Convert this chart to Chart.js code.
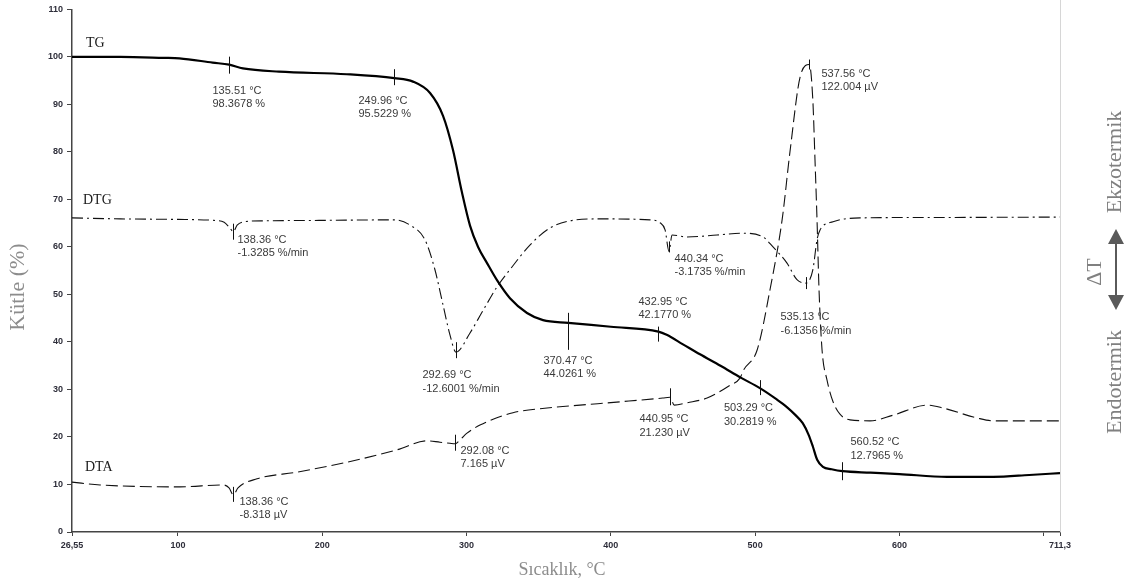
<!DOCTYPE html>
<html>
<head>
<meta charset="utf-8">
<script src="https://cdn.jsdelivr.net/npm/chart.js@4/dist/chart.umd.min.js"></script>
<style>
  html, body { margin: 0; padding: 0; background: #fff; }
  #wrap { width: 1134px; height: 587px; }
</style>
</head>
<body>
<div id="wrap"><canvas id="c" width="1134" height="587"></canvas></div>
<script>
// ---- Thermal analysis data (temperature in °C) ----
// TG: mass (%)
const tgTemps  = [26.55, 60, 90, 101, 124, 135.51, 145, 170, 217, 249.96, 262.9, 274.7, 283.7, 290.6, 296.8, 302.4, 308, 314.2, 321.1, 330.1, 341.9, 353, 370.47, 400, 432.95, 438.7, 450, 461.8, 476, 490, 503.29, 515, 522, 528, 533, 537, 540, 543, 547, 553, 560.52, 580, 600, 633, 665, 690, 711.3];
const tgValues = [100, 100, 99.8, 99.7, 98.8, 98.3678, 97.6, 96.9, 96.35, 95.5229, 94.8, 92.4, 87.6, 80.4, 71.5, 64.5, 60.0, 56.6, 53.0, 49.2, 46.1, 44.6, 44.0261, 43.2, 42.177, 41.5, 39.5, 37.4, 35.0, 32.5, 30.2819, 27.9, 26.3, 24.6, 22.9, 20.5, 18.0, 15.2, 13.7, 13.2, 12.7965, 12.5, 12.2, 11.6, 11.6, 12.0, 12.4];

// DTG: mass loss rate (%/min)
const dtgTemps  = [26.55, 60, 100, 125, 132, 136, 138.36, 141, 146, 160, 200, 250, 260.8, 271.2, 278.1, 283.7, 288.5, 292.69, 302.4, 311, 321.1, 330, 343.9, 357.8, 371.7, 392.5, 427.2, 434.1, 437.6, 440.34, 442.4, 452.8, 473.6, 491.6, 505.5, 512.4, 522.1, 529, 535.13, 540, 542.9, 545, 554, 572.7, 620, 711.3];
const dtgValues = [-0.04, -0.13, -0.18, -0.27, -0.44, -0.98, -1.3285, -0.71, -0.40, -0.31, -0.27, -0.22, -0.71, -2.09, -4.89, -8.18, -10.98, -12.6001, -10.8, -8.8, -6.49, -4.89, -2.58, -0.98, -0.31, -0.13, -0.22, -0.49, -1.16, -3.1735, -1.64, -1.82, -1.64, -1.47, -1.82, -2.76, -4.27, -5.82, -6.1356, -4.89, -2.09, -1.16, -0.40, -0.04, 0.00, 0.04];

// DTA: temperature difference signal (µV)
const dtaTemps  = [26.55, 46, 101.4, 131.2, 135.4, 138.36, 141.6, 154.8, 182.5, 217.2, 251.8, 272.6, 281.6, 288.5, 292.08, 296, 300.3, 309.3, 332.2, 355.8, 378.6, 406.4, 436, 440.95, 444, 452.8, 466.7, 482.7, 489.5, 492, 501.4, 510.3, 518.7, 524.3, 531.2, 537.56, 540, 541.5, 542.9, 544.3, 546.4, 549.8, 554, 558.8, 565.8, 579.6, 595.6, 619.2, 630.2, 653.8, 664.9, 711.3];
const dtaValues = [-4.46, -5.32, -5.90, -5.32, -6.19, -8.318, -6.19, -3.45, -1.44, 1.58, 5.32, 8.06, 7.63, 7.3, 7.165, 8.6, 10.36, 12.81, 16.55, 17.99, 18.85, 19.86, 21.0, 21.23, 18.85, 19.57, 21.0, 24.89, 27.05, 29.5, 35.54, 53.8, 74.96, 96.12, 118.27, 122.004, 111.2, 93.1, 75.0, 53.7, 35.5, 26.5, 19.86, 16.1, 14.4, 14.1, 15.8, 18.85, 17.99, 14.96, 14.1, 14.1];

// Axis ticks
const xTickValues = [26.55, 100, 200, 300, 400, 500, 600, 700, 711.3];
const xTickLabels = ['26,55', '100', '200', '300', '400', '500', '600', '', '711,3'];
const yTickValues = [0, 10, 20, 30, 40, 50, 60, 70, 80, 90, 100, 110];

// Evaluated points on the curves
const peakSeries = ['tg', 'tg', 'tg', 'tg', 'tg', 'tg', 'dtg', 'dtg', 'dtg', 'dtg', 'dta', 'dta', 'dta', 'dta'];
const peakTemps  = [135.51, 249.96, 370.47, 432.95, 503.29, 560.52, 138.36, 292.69, 440.34, 535.13, 138.36, 292.08, 440.95, 537.56];
const peakValues = [98.3678, 95.5229, 44.0261, 42.1770, 30.2819, 12.7965, -1.3285, -12.6001, -3.1735, -6.1356, -8.318, 7.165, 21.230, 122.004];

// Placement of the point labels (px offset of first text line from the point) and marker extent (px up, px down)
const peakLabelOffset = [[-17, 26], [-36, 22.5], [-25, 38], [-20, -30], [-36.5, 20], [8, -29], [4, 8], [-34, 23], [5, 7.5], [-26, 34], [6, 7], [5, 7], [-31, 22], [12, 9]];
const peakMarkerSpan  = [[8, 9], [9, 7], [10, 27], [5, 10], [8, 7], [9, 9], [8, 8], [10, 6], [10, 1], [6, 6], [8, 7], [9, 7], [9, 8], [5, 5]];

const seriesAxis = { tg: 'y', dtg: 'yDtg', dta: 'yDta' };
const seriesUnit = { tg: '%', dtg: '%/min', dta: 'µV' };
const seriesDecimals = { tg: 4, dtg: 4, dta: 3 };

function pts(xs, ys) { return xs.map((t, i) => ({ x: t, y: ys[i] })); }

const decor = {
  id: 'decor',
  beforeDraw(chart) {
    const ctx = chart.ctx;
    ctx.save();
    ctx.fillStyle = '#fff';
    ctx.fillRect(0, 0, chart.width, chart.height);
    ctx.restore();
  },
  afterDatasetsDraw(chart) {
    const { ctx, scales } = chart;
    const x = scales.x;
    ctx.save();
    ctx.lineWidth = 1;
    ctx.strokeStyle = '#111';
    ctx.fillStyle = '#3a3a3a';
    ctx.font = '11px "Liberation Sans", Arial, sans-serif';
    ctx.textBaseline = 'middle';
    ctx.textAlign = 'left';
    peakTemps.forEach((t, i) => {
      const s = peakSeries[i];
      const ys = scales[seriesAxis[s]];
      const px = Math.round(x.getPixelForValue(t)) + 0.5;
      const py = ys.getPixelForValue(peakValues[i]);
      const [up, down] = peakMarkerSpan[i];
      ctx.beginPath();
      ctx.moveTo(px, py - up);
      ctx.lineTo(px, py + down);
      ctx.stroke();
      const [dx, dy] = peakLabelOffset[i];
      ctx.fillText(t.toFixed(2) + ' °C', px + dx, py + dy);
      ctx.fillText(peakValues[i].toFixed(seriesDecimals[s]) + ' ' + seriesUnit[s], px + dx, py + dy + 13.5);
    });
    ctx.restore();
  },
  afterDraw(chart) {
    const { ctx, chartArea } = chart;
    ctx.save();
    // right frame line
    ctx.strokeStyle = '#d6d6d6';
    ctx.lineWidth = 1;
    ctx.beginPath();
    ctx.moveTo(Math.round(chartArea.right) + 0.5, 0);
    ctx.lineTo(Math.round(chartArea.right) + 0.5, chartArea.bottom);
    ctx.stroke();

    // curve names
    ctx.fillStyle = '#1a1a1a';
    ctx.font = '14px "Liberation Serif", "Times New Roman", serif';
    ctx.textBaseline = 'middle';
    ctx.textAlign = 'left';
    ctx.fillText('TG', 86, 43);
    ctx.fillText('DTG', 83, 200);
    ctx.fillText('DTA', 85, 467);

    // axis titles
    ctx.fillStyle = '#8c8c8c';
    ctx.font = '18px "Liberation Serif", "Times New Roman", serif';
    ctx.textAlign = 'center';
    ctx.fillText('Sıcaklık, °C', 562, 570);
    ctx.save();
    ctx.translate(18, 287);
    ctx.rotate(-Math.PI / 2);
    ctx.font = '22px "Liberation Serif", "Times New Roman", serif';
    ctx.fillText('Kütle (%)', 0, 0);
    ctx.restore();

    // heat flow direction
    ctx.fillStyle = '#808080';
    ctx.font = '22px "Liberation Serif", "Times New Roman", serif';
    [['Ekzotermik', 1115, 162], ['Endotermik', 1115, 382], ['ΔT', 1095, 272]].forEach(([txt, cx, cy]) => {
      ctx.save();
      ctx.translate(cx, cy);
      ctx.rotate(-Math.PI / 2);
      ctx.fillText(txt, 0, 0);
      ctx.restore();
    });
    ctx.strokeStyle = '#5a5a5a';
    ctx.fillStyle = '#5a5a5a';
    ctx.lineWidth = 2;
    ctx.beginPath();
    ctx.moveTo(1116, 240);
    ctx.lineTo(1116, 299);
    ctx.stroke();
    ctx.beginPath();
    ctx.moveTo(1116, 229); ctx.lineTo(1108, 244); ctx.lineTo(1124, 244); ctx.closePath();
    ctx.fill();
    ctx.beginPath();
    ctx.moveTo(1116, 310); ctx.lineTo(1108, 295); ctx.lineTo(1124, 295); ctx.closePath();
    ctx.fill();
    ctx.restore();
  }
};

const tickFont = { family: '"Liberation Sans", Arial, sans-serif', size: 9, weight: 'bold' };

new Chart(document.getElementById('c'), {
  type: 'line',
  data: {
    datasets: [
      { label: 'TG', data: pts(tgTemps, tgValues), yAxisID: 'y', borderColor: '#000', borderWidth: 2.2, cubicInterpolationMode: 'monotone', pointRadius: 0, fill: false },
      { label: 'DTG', data: pts(dtgTemps, dtgValues), yAxisID: 'yDtg', borderColor: '#111', borderWidth: 1.1, borderDash: [11, 4, 2, 4], cubicInterpolationMode: 'monotone', pointRadius: 0, fill: false },
      { label: 'DTA', data: pts(dtaTemps, dtaValues), yAxisID: 'yDta', borderColor: '#111', borderWidth: 1.1, borderDash: [12, 5], cubicInterpolationMode: 'monotone', pointRadius: 0, fill: false }
    ]
  },
  options: {
    responsive: false,
    animation: false,
    devicePixelRatio: 1,
    parsing: false,
    layout: { padding: { left: 0, right: 74, top: 9, bottom: 0 } },
    plugins: { legend: { display: false }, tooltip: { enabled: false } },
    elements: { point: { radius: 0 } },
    scales: {
      x: {
        type: 'linear', min: 26.55, max: 711.3,
        afterBuildTicks: s => { s.ticks = xTickValues.map(v => ({ value: v })); },
        afterFit: s => { s.height = 55; },
        ticks: { autoSkip: false, maxRotation: 0, padding: 4, color: '#2e2e3a', font: tickFont,
                 callback: (v, i) => xTickLabels[i] },
        grid: { drawOnChartArea: false, drawTicks: true, tickLength: 4, color: '#444' },
        border: { display: true, color: '#444', width: 1.5 }
      },
      y: {
        type: 'linear', position: 'left', min: 0, max: 110,
        afterBuildTicks: s => { s.ticks = yTickValues.map(v => ({ value: v })); },
        afterFit: s => { s.width = 72; },
        ticks: { padding: 4, color: '#2e2e3a', font: tickFont },
        grid: { drawOnChartArea: false, drawTicks: true, tickLength: 5, color: '#444' },
        border: { display: true, color: '#444', width: 1.5 }
      },
      yDtg: { type: 'linear', display: false, min: -29.422, max: 19.467 },
      yDta: { type: 'linear', display: false, min: -19.568, max: 138.705 }
    }
  },
  plugins: [decor]
});
</script>
</body>
</html>
